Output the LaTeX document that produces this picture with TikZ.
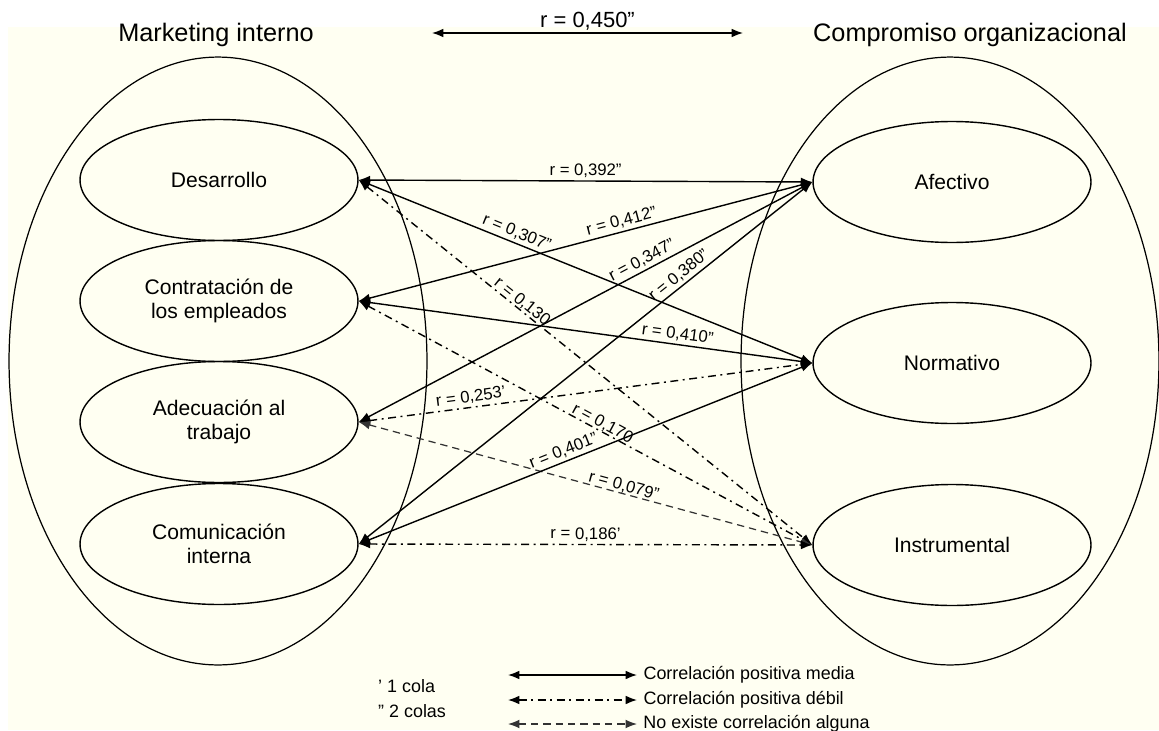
\documentclass[tikz,border=0pt]{standalone}
\usepackage{fontspec}
\setmainfont{Liberation Sans}
\usetikzlibrary{arrows.meta,shapes}
\definecolor{papel}{RGB}{255,255,242}

\begin{document}
\begin{tikzpicture}[x=0.02cm, y=-0.02cm,
        grupo/.style={draw, ellipse, line width=0.7pt, minimum width=8.36cm, minimum height=12.16cm},
        factor/.style={draw, ellipse, line width=0.8pt, minimum width=5.56cm, minimum height=2.42cm, align=center, font=\fontsize{12}{13.6}\selectfont},
        media/.style={{Latex[length=6.5pt,width=5pt]}-{Latex[length=6.5pt,width=5pt]}, line width=0.8pt},
        debil/.style={media, dash pattern=on 4.5pt off 2.6pt on 1.1pt off 2.6pt},
        nula/.style={media, black!80, line width=0.7pt, dash pattern=on 4.2pt off 2.8pt},
        coef/.style={sloped, above, inner sep=1.5pt, font=\fontsize{9.5}{10}\selectfont},
        titulo/.style={font=\fontsize{14.4}{16}\selectfont},
        leyenda/.style={font=\fontsize{10.2}{12}\selectfont}]
        \useasboundingbox (0,0) rectangle (1159,730);
        \fill [white] (0,0) rectangle (1159,730);
        \fill [papel] (8,27) rectangle (1159,730);
%        \draw [help lines, step=50] (0,0) grid (1159,730);

        % grupos
        \node [titulo] (tmkt) at (216,35) {Marketing interno};
        \node [titulo] (tcomp) at (970,35) {Compromiso organizacional};
        \coordinate (ti) at (432,33);
        \coordinate (td) at (743,33);
        \draw [media] (ti) -- (td) node [midway, above, inner sep=1pt, font=\fontsize{12.5}{14}\selectfont] {r = 0,450”};

        \node [grupo] (mkt) at (218,361) {};
        \node [grupo] (comp) at (950,361) {};

        % dimensiones
        \node [factor] (des) at (219,180) {Desarrollo};
        \node [factor] (con) at (219,301) {Contratación de\\los empleados};
        \node [factor] (ade) at (219,422) {Adecuación al\\trabajo};
        \node [factor] (com) at (219,544) {Comunicación\\interna};
        \node [factor] (afe) at (952,182) {Afectivo};
        \node [factor] (nor) at (952,363) {Normativo};
        \node [factor] (ins) at (952,545) {Instrumental};

        % correlaciones
        \draw [media] (des.east) -- (afe.west) node [coef, pos=0.5] {r = 0,392”};
        \draw [media] (des.east) -- (nor.west) node [coef, pos=0.34] {r = 0,307”};
        \draw [debil] (des.east) -- (ins.west) node [coef, pos=0.35, inner sep=0pt] {r = 0,130};
        \draw [media] (con.east) -- (afe.west) node [coef, pos=0.585] {r = 0,412”};
        \draw [media] (con.east) -- (nor.west) node [coef, pos=0.70] {r = 0,410”};
        \draw [debil] (con.east) -- (ins.west) node [coef, pos=0.53, inner sep=0pt] {r = 0,170};
        \draw [media] (ade.east) -- (afe.west) node [coef, pos=0.635] {r = 0,347”};
        \draw [debil] (ade.east) -- (nor.west) node [coef, pos=0.25] {r = 0,253’};
        \draw [nula] (ade.east) -- (ins.west) node [coef, pos=0.58, inner sep=0pt, black] {r = 0,079”};
        \draw [media] (com.east) -- (afe.west) node [coef, pos=0.72] {r = 0,380”};
        \draw [media] (com.east) -- (nor.west) node [coef, pos=0.46] {r = 0,401”};
        \draw [debil] (com.east) -- (ins.west) node [coef, pos=0.5] {r = 0,186’};

        % leyenda
        \node [leyenda, anchor=west] (cola1) at (372,686) {’ 1 cola};
        \node [leyenda, anchor=west] (cola2) at (372,711) {” 2 colas};
        \coordinate (l1a) at (508,675);
        \coordinate (l1b) at (637,675);
        \coordinate (l2a) at (508,700);
        \coordinate (l2b) at (637,700);
        \coordinate (l3a) at (508,724);
        \coordinate (l3b) at (637,724);
        \draw [media] (l1a) -- (l1b) node [leyenda, right] {Correlación positiva media};
        \draw [debil] (l2a) -- (l2b) node [leyenda, right] {Correlación positiva débil};
        \draw [nula] (l3a) -- (l3b) node [leyenda, right, black] {No existe correlación alguna};
\end{tikzpicture}
\end{document}
